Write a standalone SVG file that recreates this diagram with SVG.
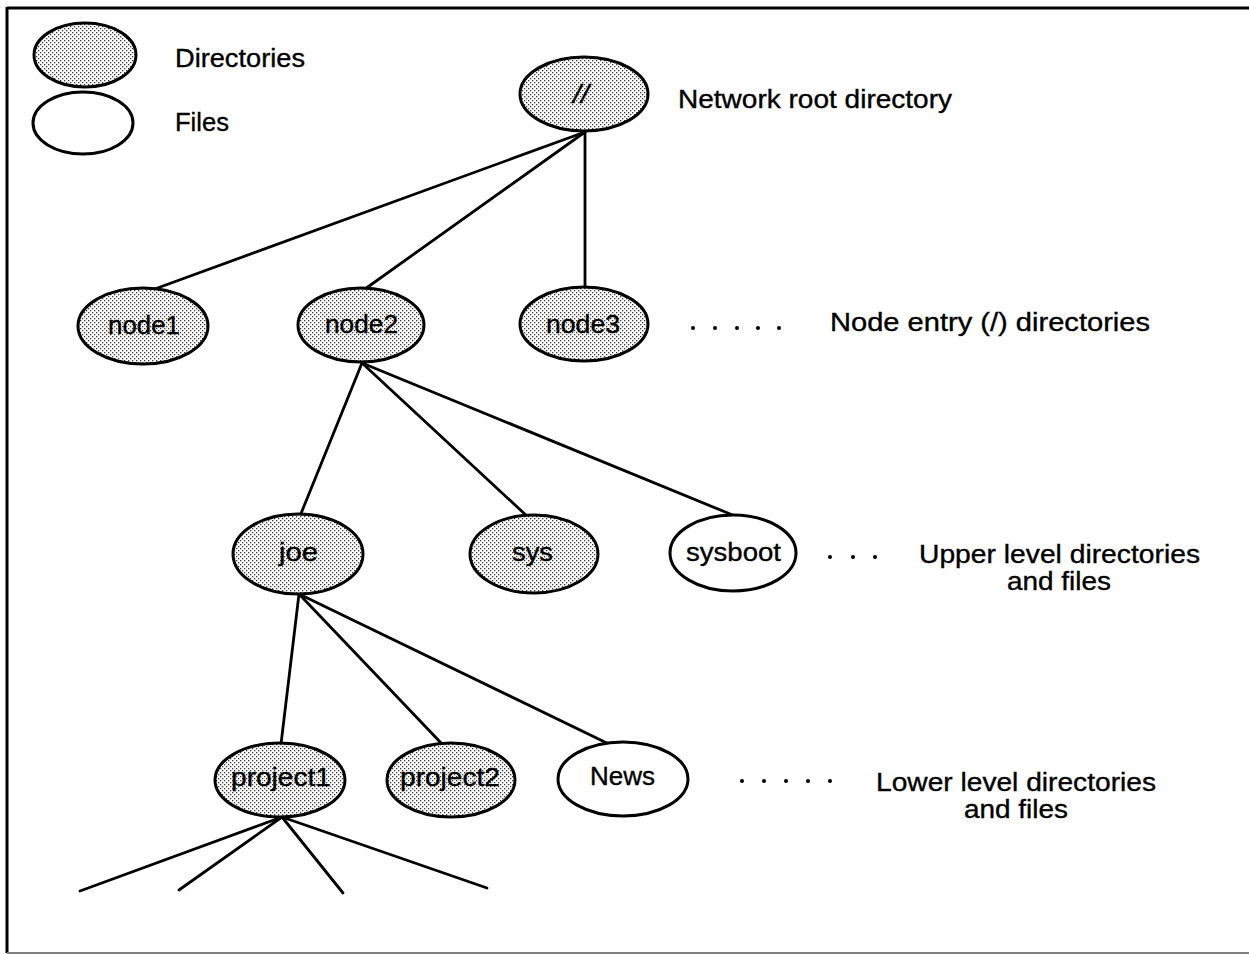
<svg xmlns="http://www.w3.org/2000/svg" width="1249" height="954" viewBox="0 0 1249 954">
  <defs>
    <!-- stippled fill used for directory nodes -->
    <pattern id="stipple" width="4" height="4" patternUnits="userSpaceOnUse">
      <rect width="4" height="4" fill="#ffffff"/>
      <rect x="0" y="0" width="1.3" height="1.3" fill="#3a3a3a"/>
      <rect x="2" y="2" width="1.3" height="1.3" fill="#3a3a3a"/>
    </pattern>
    <style>
      .dir { fill: url(#stipple); stroke: #000; stroke-width: 3; }
      .file { fill: #fff; stroke: #000; stroke-width: 3; }
      .lbl { font-family: "Liberation Sans", Arial, sans-serif; font-size: 25px; fill: #000; stroke: #000; stroke-width: 0.35; }
      .mid { text-anchor: middle; }
      .edge { stroke: #000; stroke-width: 2.8; stroke-linecap: round; fill: none; }
      .dot { fill: #000; }
    </style>
  </defs>

  <rect width="1249" height="954" fill="#fff"/>

  <!-- frame -->
  <g id="frame">
    <line x1="7" y1="8" x2="1249" y2="8" stroke="#000" stroke-width="3"/>
    <line x1="7" y1="7" x2="7" y2="953" stroke="#000" stroke-width="3"/>
    <line x1="7" y1="953" x2="1249" y2="953" stroke="#808080" stroke-width="2"/>
  </g>

  <!-- legend -->
  <g id="legend">
    <ellipse class="dir" cx="85" cy="55" rx="51" ry="32"/>
    <text class="lbl" x="175" y="67" textLength="130" lengthAdjust="spacingAndGlyphs">Directories</text>
    <ellipse class="file" cx="83" cy="123" rx="50" ry="31"/>
    <text class="lbl" x="175" y="131" textLength="54" lengthAdjust="spacingAndGlyphs">Files</text>
  </g>

  <!-- connectors -->
  <g id="connectors">
    <line class="edge" x1="585" y1="132" x2="152" y2="290"/>
    <line class="edge" x1="585" y1="132" x2="365" y2="289"/>
    <line class="edge" x1="585" y1="132" x2="585" y2="287"/>
    <line class="edge" x1="362" y1="363" x2="300" y2="516"/>
    <line class="edge" x1="362" y1="363" x2="528" y2="517"/>
    <line class="edge" x1="362" y1="363" x2="735" y2="516"/>
    <line class="edge" x1="299" y1="594" x2="281" y2="744"/>
    <line class="edge" x1="299" y1="594" x2="443" y2="745"/>
    <line class="edge" x1="299" y1="594" x2="613" y2="746"/>
    <line class="edge" x1="282" y1="817" x2="80" y2="891"/>
    <line class="edge" x1="282" y1="817" x2="179" y2="890"/>
    <line class="edge" x1="282" y1="817" x2="343" y2="893"/>
    <line class="edge" x1="282" y1="817" x2="487" y2="888"/>
  </g>

  <!-- network root -->
  <g id="root">
    <ellipse class="dir" cx="584" cy="94" rx="64" ry="37"/>
    <text class="lbl mid" x="581" y="103" font-style="italic" textLength="16" lengthAdjust="spacingAndGlyphs">//</text>
    <text class="lbl" x="678" y="108" textLength="274" lengthAdjust="spacingAndGlyphs">Network root directory</text>
  </g>

  <!-- node entry level -->
  <g id="node1">
    <ellipse class="dir" cx="143" cy="326" rx="65" ry="38"/>
    <text class="lbl mid" x="144" y="334" textLength="72" lengthAdjust="spacingAndGlyphs">node1</text>
  </g>
  <g id="node2">
    <ellipse class="dir" cx="361" cy="325" rx="63" ry="37"/>
    <text class="lbl mid" x="361.5" y="333" textLength="73" lengthAdjust="spacingAndGlyphs">node2</text>
  </g>
  <g id="node3">
    <ellipse class="dir" cx="584" cy="324" rx="64" ry="37"/>
    <text class="lbl mid" x="583" y="333" textLength="74" lengthAdjust="spacingAndGlyphs">node3</text>
  </g>
  <g id="node-level-note">
    <circle class="dot" cx="693" cy="328" r="2"/>
    <circle class="dot" cx="715" cy="328" r="2"/>
    <circle class="dot" cx="737" cy="328" r="2"/>
    <circle class="dot" cx="758" cy="328" r="2"/>
    <circle class="dot" cx="779" cy="328" r="2"/>
    <text class="lbl" x="830" y="331" textLength="320" lengthAdjust="spacingAndGlyphs">Node entry (/) directories</text>
  </g>

  <!-- upper level -->
  <g id="joe">
    <ellipse class="dir" cx="298" cy="554" rx="65" ry="40"/>
    <text class="lbl mid" x="298.5" y="561" textLength="39" lengthAdjust="spacingAndGlyphs">joe</text>
  </g>
  <g id="sys">
    <ellipse class="dir" cx="534" cy="554" rx="64" ry="39"/>
    <text class="lbl mid" x="532.5" y="561" textLength="41" lengthAdjust="spacingAndGlyphs">sys</text>
  </g>
  <g id="sysboot">
    <ellipse class="file" cx="733" cy="553" rx="63" ry="38"/>
    <text class="lbl mid" x="733.5" y="561" textLength="95" lengthAdjust="spacingAndGlyphs">sysboot</text>
  </g>
  <g id="upper-level-note">
    <circle class="dot" cx="830" cy="557" r="2"/>
    <circle class="dot" cx="853" cy="557" r="2"/>
    <circle class="dot" cx="875" cy="557" r="2"/>
    <text class="lbl mid" x="1059.5" y="563" textLength="281" lengthAdjust="spacingAndGlyphs">Upper level directories</text>
    <text class="lbl mid" x="1059" y="590" textLength="104" lengthAdjust="spacingAndGlyphs">and files</text>
  </g>

  <!-- lower level -->
  <g id="project1">
    <ellipse class="dir" cx="280" cy="780" rx="65" ry="37"/>
    <text class="lbl mid" x="281" y="786" textLength="100" lengthAdjust="spacingAndGlyphs">project1</text>
  </g>
  <g id="project2">
    <ellipse class="dir" cx="451" cy="780" rx="64" ry="37"/>
    <text class="lbl mid" x="450" y="786" textLength="100" lengthAdjust="spacingAndGlyphs">project2</text>
  </g>
  <g id="news">
    <ellipse class="file" cx="623" cy="779" rx="65" ry="37"/>
    <text class="lbl mid" x="622.5" y="785" textLength="65" lengthAdjust="spacingAndGlyphs">News</text>
  </g>
  <g id="lower-level-note">
    <circle class="dot" cx="742" cy="781" r="2"/>
    <circle class="dot" cx="764" cy="781" r="2"/>
    <circle class="dot" cx="786" cy="781" r="2"/>
    <circle class="dot" cx="808" cy="781" r="2"/>
    <circle class="dot" cx="830" cy="781" r="2"/>
    <text class="lbl mid" x="1016" y="791" textLength="280" lengthAdjust="spacingAndGlyphs">Lower level directories</text>
    <text class="lbl mid" x="1016" y="818" textLength="104" lengthAdjust="spacingAndGlyphs">and files</text>
  </g>
</svg>
